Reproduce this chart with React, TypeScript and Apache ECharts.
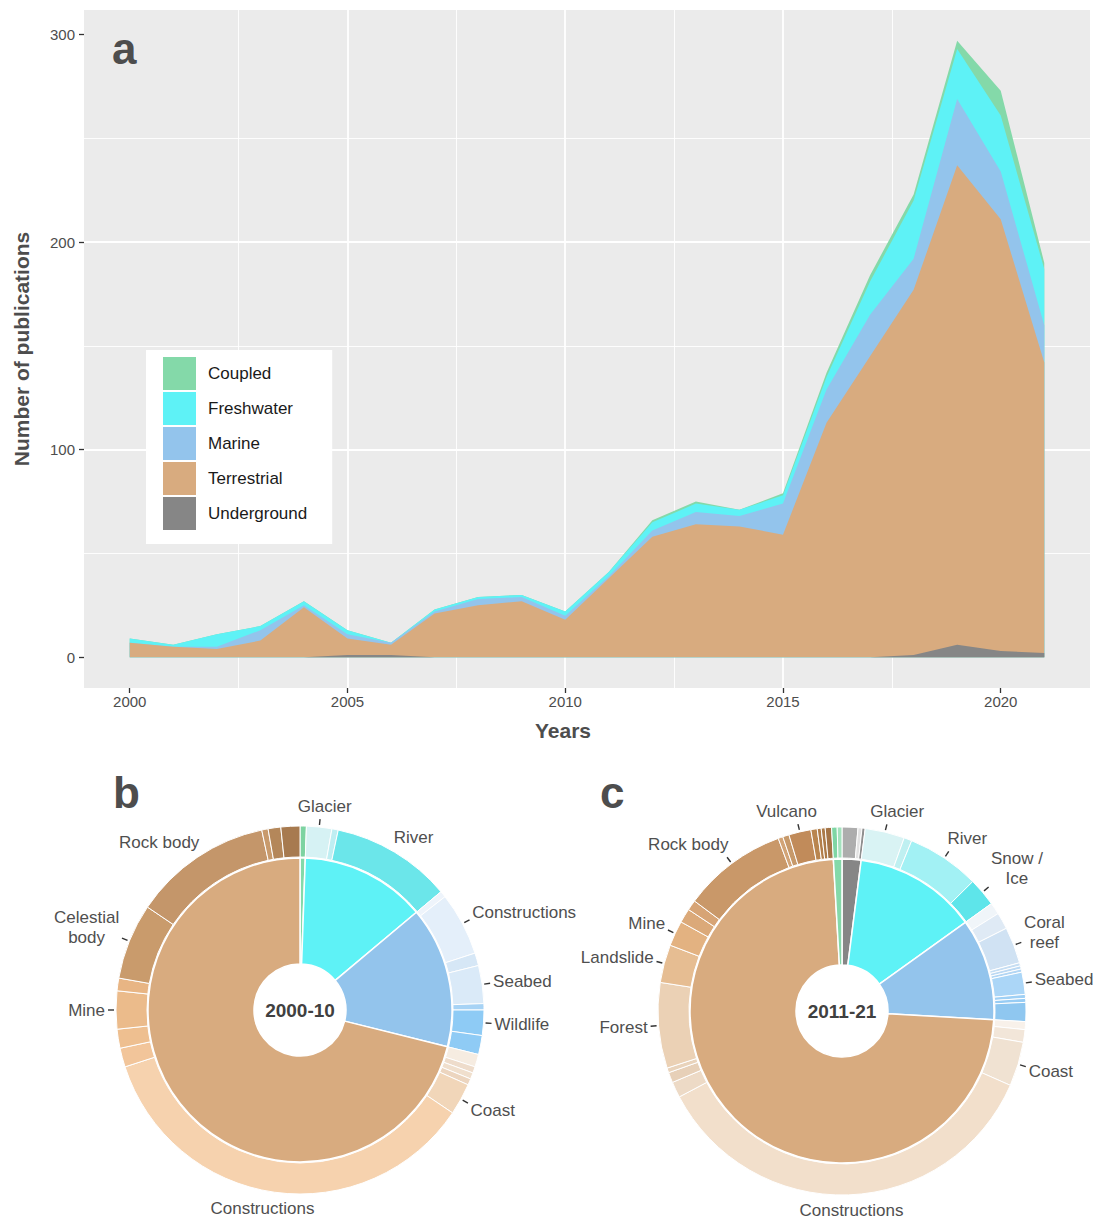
import React, { useEffect, useRef } from 'react';
import * as echarts from 'echarts';

// ---------- Panel a: publications per year (stacked) ----------
const years = [2000, 2001, 2002, 2003, 2004, 2005, 2006, 2007, 2008, 2009, 2010, 2011, 2012, 2013, 2014, 2015, 2016, 2017, 2018, 2019, 2020, 2021];
const underground = [0, 0, 0, 0, 0, 1, 1, 0, 0, 0, 0, 0, 0, 0, 0, 0, 0, 0, 1, 6, 3, 2];
const terrestrial = [7, 5, 4, 8, 24, 8, 5, 21, 25, 27, 18, 38, 58, 64, 63, 59, 113, 145, 176, 231, 208, 140];
const marine = [0, 0, 1, 5, 1, 2, 1, 1, 3, 2, 2, 1, 3, 6, 5, 15, 16, 20, 15, 32, 23, 18];
const freshwater = [2, 1, 6, 2, 2, 2, 0, 1, 1, 1, 2, 2, 4, 4, 3, 4, 6, 16, 28, 24, 27, 27];
const coupled = [0, 0, 0, 0, 0, 0, 0, 0, 0, 0, 0, 0, 1, 1, 0, 1, 2, 3, 3, 4, 12, 3];

const xTickLabels = [2000, 2005, 2010, 2015, 2020];
const yTickLabels = [0, 100, 200, 300];
const legendOrder = ['Coupled', 'Freshwater', 'Marine', 'Terrestrial', 'Underground'];

// ---------- Panel b: 2000-10 ----------
const innerNamesB = ['Coupled', 'Freshwater', 'Marine', 'Terrestrial'];
const innerValuesB = [1, 24, 27, 128];
const outerLabelsB = ['', 'Glacier', '', 'River', '', 'Constructions', '', 'Seabed', '', 'Wildlife', '', '', '', '', '', 'Coast', 'Constructions', '', '', 'Mine', '', 'Celestial\nbody', 'Rock body', '', '', ''];
const outerValuesB = [1, 4, 1, 19, 1, 10, 2, 6, 1, 4, 3, 2, 1, 1, 1, 5, 64, 3, 3, 6, 2, 12, 22, 1, 2, 3];

// ---------- Panel c: 2011-21 ----------
const innerNamesC = ['Underground', 'Freshwater', 'Marine', 'Terrestrial', 'Coupled'];
const innerValuesC = [29, 188, 156, 1053, 13];
const outerLabelsC = ['', '', '', 'Glacier', '', 'River', 'Snow /\nIce', '', '', 'Coral\nreef', '', '', '', 'Seabed', '', '', '', '', '', 'Coast', 'Constructions', '', '', '', 'Forest', 'Landslide', 'Mine', '', '', 'Rock body', '', '', 'Vulcano', '', '', '', '', '', ''];
const outerValuesC = [20, 5, 4, 50, 10, 92, 36, 15, 21, 46, 4, 4, 4, 28, 5, 5, 24, 10, 16, 56, 513, 20, 13, 6, 108, 48, 32, 18, 13, 132, 6, 8, 28, 8, 5, 5, 8, 7, 6];

// ---------- styles ----------
const domainColors: Record<string, string> = {
  Coupled: '#84d9a9',
  Freshwater: '#5ef2f6',
  Marine: '#93c4ec',
  Terrestrial: '#d8ab7f',
  Underground: '#868686',
};
const outerColorsB = ['#7dd3a1', '#d6f2f4', '#bfeef2', '#6be6ea', '#eef4fb', '#e4effa', '#d6e7f6', '#daeaf8', '#a7d3f5', '#8ecbf5', '#8fcbf5', '#f6ece1', '#eedccb', '#f0dfcd', '#ecd5bf', '#f1d6b9', '#f6d2ae', '#f2c59a', '#eebf90', '#ebbb8b', '#e8b584', '#c99b6c', '#c4966a', '#c89a6c', '#b4875a', '#a77a4f'];
const outerColorsC = ['#adadad', '#e2e2e2', '#8f8f8f', '#d9f3f4', '#bff0f1', '#a2f1f4', '#5ee5ea', '#f0f5f9', '#dfeaf5', '#d0e2f3', '#c6def3', '#bcd9f3', '#b2d6f4', '#abd6f7', '#9fd0f5', '#97ccf4', '#8fc7f0', '#f8f1ea', '#f2e6d9', '#f0e2d2', '#f2dfcb', '#eddac6', '#e7d0b8', '#e9d3bb', '#ebd1b5', '#e6bd92', '#e3b281', '#dba979', '#d7a475', '#c99869', '#d2a477', '#c7996a', '#c18b5a', '#b9854f', '#b27e4a', '#ab7a48', '#a47446', '#7fd6a4', '#a3e2bd'];

const FONT = "'Liberation Sans', Arial, Helvetica, sans-serif";
const HOLE = 46;
const R_IN = 152;
const R_OUT = 184;
const TICK_MAX_SPAN = 35;
const PIE_B = { cx: 300, cy: 1010 };
const PIE_C = { cx: 842, cy: 1011 };

const sum = (a: number[]) => a.reduce((s, v) => s + v, 0);
const clamp = (v: number) => Math.max(-1, Math.min(1, v));

function spansOf(values: number[]) {
  const total = sum(values);
  const mids: number[] = [];
  const spans: number[] = [];
  let acc = 0;
  values.forEach((v) => {
    mids.push(((acc + v / 2) / total) * 360);
    spans.push((v / total) * 360);
    acc += v;
  });
  return { mids, spans };
}

function makeLabelLayout(cx: number, cy: number, values: number[]) {
  const { mids, spans } = spansOf(values);
  return (p: any) => {
    const i = p.dataIndex;
    const th = (mids[i] * Math.PI) / 180;
    const s = Math.sin(th);
    const c = Math.cos(th);
    const ticked = spans[i] < TICK_MAX_SPAN;
    const rA = ticked ? R_OUT + 11 : R_OUT + 6;
    const ax = cx + rA * s;
    const ay = cy - rA * c;
    const w = p.labelRect ? p.labelRect.width : 0;
    const h = p.labelRect ? p.labelRect.height : 0;
    const out: any = {
      x: ax + (w / 2) * clamp(s / 0.65),
      y: ay - (h / 2) * clamp(c / 0.8),
      align: 'center',
      verticalAlign: 'middle',
    };
    if (ticked) {
      out.labelLinePoints = [
        [cx + (R_OUT + 2) * s, cy - (R_OUT + 2) * c],
        [cx + (R_OUT + 8) * s, cy - (R_OUT + 8) * c],
      ];
    }
    return out;
  };
}

function buildOuter(labels: string[], values: number[], colors: string[]) {
  const { spans } = spansOf(values);
  return values.map((v, i) => {
    const has = labels[i] !== '';
    return {
      name: labels[i],
      value: v,
      itemStyle: { color: colors[i] },
      label: { show: has },
      labelLine: { show: has && spans[i] < TICK_MAX_SPAN },
    };
  });
}

function buildInner(names: string[], values: number[]) {
  return values.map((v, i) => ({ name: names[i], value: v, itemStyle: { color: domainColors[names[i]] } }));
}

function pieSeries(center: { cx: number; cy: number }, innerNames: string[], innerValues: number[], outerLabels: string[], outerValues: number[], outerColors: string[]) {
  return [
    {
      type: 'pie',
      center: [center.cx, center.cy],
      radius: [HOLE, R_IN],
      startAngle: 90,
      clockwise: true,
      silent: true,
      avoidLabelOverlap: false,
      label: { show: false },
      labelLine: { show: false },
      emphasis: { disabled: true },
      itemStyle: { borderColor: '#ffffff', borderWidth: 1.5 },
      data: buildInner(innerNames, innerValues),
    },
    {
      type: 'pie',
      center: [center.cx, center.cy],
      radius: [R_IN + 1, R_OUT],
      startAngle: 90,
      clockwise: true,
      silent: true,
      avoidLabelOverlap: false,
      emphasis: { disabled: true },
      itemStyle: { borderColor: '#ffffff', borderWidth: 1 },
      label: {
        position: 'outside',
        fontSize: 17,
        lineHeight: 20,
        color: '#4f4f4f',
        fontFamily: FONT,
        formatter: '{b}',
      },
      labelLine: { length: 6, length2: 0, lineStyle: { color: '#333333', width: 1.4 } },
      labelLayout: makeLabelLayout(center.cx, center.cy, outerValues),
      data: buildOuter(outerLabels, outerValues, outerColors),
    },
  ];
}

const App: React.FC = () => {
  const ref = useRef<HTMLDivElement>(null);

  useEffect(() => {
    document.body.style.margin = '0';
    if (!ref.current) return;
    const chart = echarts.init(ref.current, undefined, { renderer: 'svg' });

    // bottom-to-top stacking order (as in the figure)
    const stackOrder: [string, number[]][] = [
      ['Underground', underground],
      ['Terrestrial', terrestrial],
      ['Marine', marine],
      ['Freshwater', freshwater],
      ['Coupled', coupled],
    ];
    // cumulative tops of each layer
    const cumulative = stackOrder.map((_, k) =>
      years.map((_, i) => stackOrder.slice(0, k + 1).reduce((s, [, arr]) => s + arr[i], 0))
    );
    const totals = cumulative[cumulative.length - 1];
    const yMaxData = Math.max(...totals);
    const yPad = yMaxData * 0.05;
    const xPad = (years[years.length - 1] - years[0]) * 0.05;

    // painted from the top layer downwards so every lower layer covers the part below it
    const areaSeries = stackOrder
      .map(([name], k) => ({
        name,
        type: 'line',
        symbol: 'none',
        silent: true,
        color: domainColors[name],
        lineStyle: { width: 0, opacity: 0 },
        areaStyle: { color: domainColors[name], opacity: 1 },
        emphasis: { disabled: true },
        data: years.map((y, i) => [y, cumulative[k][i]]),
      }))
      .reverse();

    const labelStyle = { color: '#4d4d4d', fontSize: 15, fontFamily: FONT };

    chart.setOption({
      animation: false,
      textStyle: { fontFamily: FONT },
      backgroundColor: '#ffffff',
      grid: {
        left: 84,
        right: 14,
        top: 10,
        bottom: 538,
        show: true,
        backgroundColor: '#ebebeb',
        borderWidth: 0,
        containLabel: false,
        outerBoundsMode: 'none',
      },
      xAxis: {
        type: 'value',
        min: years[0] - xPad,
        max: years[years.length - 1] + xPad,
        splitNumber: 5,
        minInterval: 5,
        maxInterval: 5,
        name: 'Years',
        nameLocation: 'middle',
        nameGap: 32,
        nameTextStyle: { fontSize: 21, fontWeight: 'bold', color: '#4d4d4d', fontFamily: FONT, padding: [0, 48, 0, 0] },
        axisLine: { show: false, onZero: false },
        axisTick: { show: true, length: 5, customValues: xTickLabels, lineStyle: { color: '#333333', width: 1.3 } },
        axisLabel: { ...labelStyle, margin: 6, customValues: xTickLabels, formatter: (v: number) => String(v) },
        splitLine: { show: true, showMinLine: false, showMaxLine: false, lineStyle: { color: '#ffffff', width: 1.8 } },
        minorTick: { show: false, splitNumber: 2 },
        minorSplitLine: { show: true, lineStyle: { color: '#ffffff', width: 0.9 } },
      },
      yAxis: {
        type: 'value',
        min: -yPad,
        max: yMaxData + yPad,
        splitNumber: 3,
        minInterval: 100,
        maxInterval: 100,
        name: 'Number of publications',
        nameLocation: 'middle',
        nameGap: 52,
        nameTextStyle: { fontSize: 21, fontWeight: 'bold', color: '#4d4d4d', fontFamily: FONT },
        axisLine: { show: false, onZero: false },
        axisTick: { show: true, length: 5, customValues: yTickLabels, lineStyle: { color: '#333333', width: 1.3 } },
        axisLabel: { ...labelStyle, margin: 9, customValues: yTickLabels, formatter: (v: number) => String(v) },
        splitLine: { show: true, showMinLine: false, showMaxLine: false, lineStyle: { color: '#ffffff', width: 1.8 } },
        minorTick: { show: false, splitNumber: 2 },
        minorSplitLine: { show: true, lineStyle: { color: '#ffffff', width: 0.9 } },
      },
      legend: {
        data: legendOrder,
        orient: 'vertical',
        left: 146,
        top: 350,
        icon: 'rect',
        itemWidth: 33,
        itemHeight: 33,
        itemGap: 2,
        backgroundColor: '#ffffff',
        padding: [7, 25, 14, 17],
        selectedMode: false,
        itemStyle: { borderWidth: 0 },
        textStyle: { fontSize: 17, color: '#1a1a1a', fontFamily: FONT, padding: [0, 0, 0, 7] },
      },
      graphic: [
        { type: 'text', x: 112, y: 48, style: { text: 'a', font: `bold 44px ${FONT}`, fill: '#4d4d4d', align: 'left', verticalAlign: 'middle' } },
        { type: 'text', x: 113, y: 792, style: { text: 'b', font: `bold 44px ${FONT}`, fill: '#4d4d4d', align: 'left', verticalAlign: 'middle' } },
        { type: 'text', x: 600, y: 792, style: { text: 'c', font: `bold 44px ${FONT}`, fill: '#4d4d4d', align: 'left', verticalAlign: 'middle' } },
        { type: 'text', x: PIE_B.cx, y: PIE_B.cy, style: { text: '2000-10', font: `bold 19px ${FONT}`, fill: '#404040', align: 'center', verticalAlign: 'middle' } },
        { type: 'text', x: PIE_C.cx, y: PIE_C.cy, style: { text: '2011-21', font: `bold 19px ${FONT}`, fill: '#404040', align: 'center', verticalAlign: 'middle' } },
      ],
      series: [
        ...areaSeries,
        ...pieSeries(PIE_B, innerNamesB, innerValuesB, outerLabelsB, outerValuesB, outerColorsB),
        ...pieSeries(PIE_C, innerNamesC, innerValuesC, outerLabelsC, outerValuesC, outerColorsC),
      ],
    });

    return () => chart.dispose();
  }, []);

  return <div ref={ref} style={{ width: 1104, height: 1226 }} />;
};

export default App;
